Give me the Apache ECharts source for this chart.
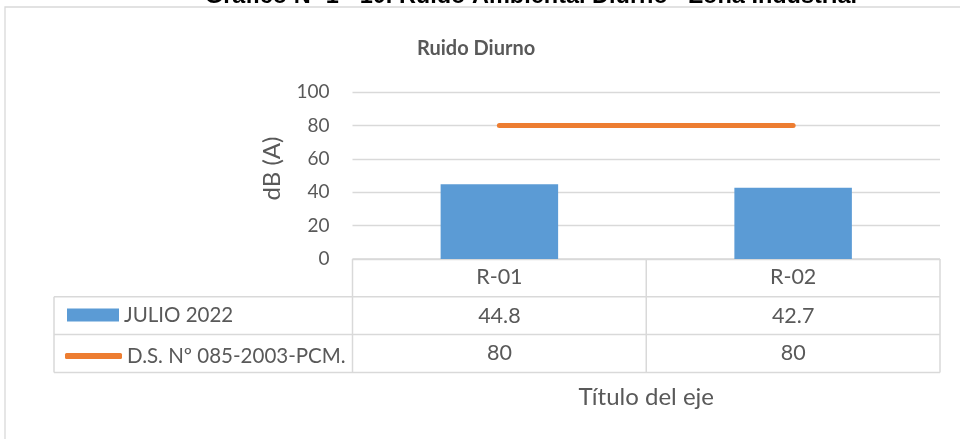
<!DOCTYPE html>
<html><head><meta charset="utf-8">
<script src="https://cdn.jsdelivr.net/npm/echarts@6/dist/echarts.min.js"></script>
<style>html,body{margin:0;padding:0;background:#fff}#c{width:960px;height:439px}</style>
</head><body><div id="c"></div>
<script>
var categories = ['R-01', 'R-02'];
var seriesNames = ['JULIO 2022', 'D.S. Nº 085-2003-PCM.'];
var julio2022 = [44.8, 42.7];
var limite = [80, 80];
var yTicks = [0, 20, 40, 60, 80, 100];

var FONT = 'Lato';
var TXT = '#595959';
var GRID = {left: 352.5, right: 20, top: 92, bottom: 180};
var chart = echarts.init(document.getElementById('c'));
var option = {
  animation: false,
  textStyle: {fontFamily: FONT},
  title: {text: 'Ruido Diurno', left: 412, top: 34,
    textStyle: {fontFamily: FONT, fontSize: 20, fontWeight: 'bold', color: TXT}},
  grid: GRID,
  legend: [
    {orient: 'vertical', left: 62, top: 299.5, itemWidth: 52, itemHeight: 13, itemGap: 5,
     textStyle: {fontFamily: FONT, fontSize: 20.5, color: TXT},
     data: [{name: seriesNames[0], icon: 'rect'}]},
    {orient: 'vertical', left: 60, top: 340.5, itemWidth: 57, itemHeight: 6, itemGap: 3,
     textStyle: {fontFamily: FONT, fontSize: 20.5, color: TXT},
     data: [{name: seriesNames[1], icon: 'roundRect'}]}
  ],
  xAxis: {type: 'category', data: categories,
    axisLine: {show: false}, axisTick: {show: false},
    axisLabel: {margin: 7, fontSize: 21.5, color: TXT, fontFamily: FONT},
    name: 'Título del eje', nameLocation: 'middle', nameGap: 126,
    nameTextStyle: {fontSize: 24, color: TXT, fontFamily: FONT}},
  yAxis: {type: 'value', min: yTicks[0], max: yTicks[yTicks.length - 1], interval: yTicks[1] - yTicks[0],
    axisLabel: {fontSize: 19, color: TXT, margin: 23, fontFamily: FONT},
    splitLine: {lineStyle: {color: '#D9D9D9', width: 1.3}},
    name: 'dB (A)', nameLocation: 'middle', nameGap: 68, nameRotate: 90,
    nameTextStyle: {fontSize: 24, color: TXT, fontFamily: FONT, padding: [0, 0, 0, 14]}},
  series: [
    {name: seriesNames[0], type: 'bar', data: julio2022, barWidth: '40%',
     itemStyle: {color: '#5B9BD5'}},
    {name: seriesNames[1], type: 'line', data: limite, symbol: 'none',
     lineStyle: {color: '#ED7D31', width: 5, cap: 'round'}, itemStyle: {color: '#ED7D31'}}
  ]
};
chart.setOption(option);

// data table built from the arrays
var x0 = GRID.left, x1 = 960 - GRID.right, yTop = 439 - GRID.bottom;
var rowH = 37.8, tLeft = 54;
var lineColor = '#D9D9D9';
var g = [];
function line(xa, ya, xb, yb) {
  g.push({type: 'line', shape: {x1: xa, y1: ya, x2: xb, y2: yb}, style: {stroke: lineColor, lineWidth: 1.5}, silent: true});
}
g.push({type: 'rect', shape: {x: 5, y: 7, width: 970, height: 450}, style: {fill: 'none', stroke: lineColor, lineWidth: 1.3}, silent: true});
line(x0, yTop, x1, yTop);
line(x0, yTop, x0, yTop + 3 * rowH);
line(x1, yTop, x1, yTop + 3 * rowH);
for (var r = 1; r <= 3; r++) line(tLeft, yTop + r * rowH, x1, yTop + r * rowH);
line(tLeft, yTop + rowH, tLeft, yTop + 3 * rowH);
var centers = categories.map(function (c) { return chart.convertToPixel({xAxisIndex: 0}, c); });
for (var i = 0; i < categories.length - 1; i++) {
  var mid = (centers[i] + centers[i + 1]) / 2;
  line(mid, yTop, mid, yTop + 3 * rowH);
}
[julio2022, limite].forEach(function (arr, ri) {
  arr.forEach(function (v, ci) {
    g.push({type: 'text', x: centers[ci], y: yTop + (ri + 1.5) * rowH,
      style: {text: String(v), fontSize: 21.5, fontFamily: FONT, fill: TXT, align: 'center', verticalAlign: 'middle'}, silent: true});
  });
});
g.push({type: 'text', x: 531, y: 8.5, style: {text: 'Gráfico Nº 1 - 10. Ruido Ambiental Diurno - Zona Industrial',
  fontSize: 23.5, fontWeight: 'bold', fontFamily: 'Liberation Sans', fill: '#000', align: 'center', verticalAlign: 'bottom'}, silent: true});
chart.setOption({graphic: g});
</script></body></html>
